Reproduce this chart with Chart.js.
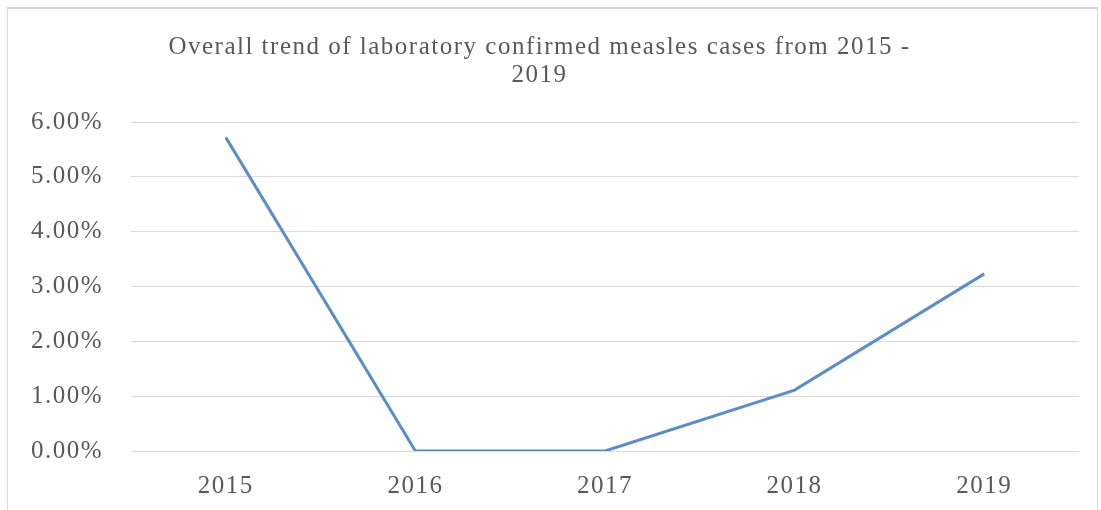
<!DOCTYPE html>
<html>
<head>
<meta charset="utf-8">
<script src="https://cdn.jsdelivr.net/npm/chart.js@4/dist/chart.umd.min.js"></script>
<style>
  html, body { margin: 0; padding: 0; background: #fff; overflow: hidden; }
  #wrap { position: relative; width: 1101px; height: 510px; }
  #frame { position: absolute; left: 7px; top: 7px; width: 1089px; height: 520px;
           border: 1px solid #d9d9d9; border-top: 2px solid #d4d4d4; }
  canvas { position: absolute; left: 0; top: 0; }
</style>
</head>
<body>
<div id="wrap">
  <div id="frame"></div>
  <canvas id="measlesChart" width="1101" height="510"></canvas>
</div>
<script>
// data
const years = ['2015', '2016', '2017', '2018', '2019'];
const confirmedPct = [5.72, 0, 0, 1.11, 3.23];
const yTicks = [0, 1, 2, 3, 4, 5, 6];
const titleLines = ['Overall trend of laboratory confirmed measles cases from 2015 -', '2019'];

const textColor = '#595959';
const serif = "'Liberation Serif', 'Times New Roman', serif";

// the original text looks stretched sideways, so spread the letters a bit
const spacingPlugin = {
    id: 'spacing',
    beforeUpdate(chart) { chart.ctx.letterSpacing = '1.5px'; },
    beforeDraw(chart) { chart.ctx.letterSpacing = '1.5px'; }
};

const ctx = document.getElementById('measlesChart').getContext('2d');
const chart = new Chart(ctx, {
    type: 'line',
    data: {
        labels: years,
        datasets: [{
            label: 'Confirmed measles cases',
            data: confirmedPct,
            borderColor: '#5b8ec6',
            borderWidth: 3,
            pointRadius: 0,
            tension: 0,
            fill: false
        }]
    },
    plugins: [spacingPlugin],
    options: {
        responsive: false,
        animation: false,
        layout: { padding: { left: 0, right: 22, top: 0, bottom: 0 } },
        plugins: {
            legend: { display: false },
            tooltip: { enabled: false },
            title: {
                display: true,
                text: titleLines,
                color: textColor,
                font: { family: serif, size: 25, weight: 'normal', lineHeight: 1.12 },
                padding: { top: 33, bottom: 33 }
            }
        },
        scales: {
            x: {
                offset: true,
                grid: { display: false, drawTicks: false },
                border: { display: false },
                ticks: {
                    color: textColor,
                    font: { family: serif, size: 25 },
                    padding: 20
                },
                afterFit(scale) { scale.height = 59; }
            },
            y: {
                min: 0,
                max: 6,
                afterBuildTicks(scale) {
                    scale.ticks = yTicks.map(v => ({ value: v }));
                },
                grid: { color: '#d9d9d9', lineWidth: 1, drawTicks: false },
                border: { display: false },
                ticks: {
                    color: textColor,
                    font: { family: serif, size: 25 },
                    padding: 28,
                    callback: v => v.toFixed(2) + '%'
                },
                afterFit(scale) { scale.width = 131; }
            }
        }
    }
});
</script>
</body>
</html>
